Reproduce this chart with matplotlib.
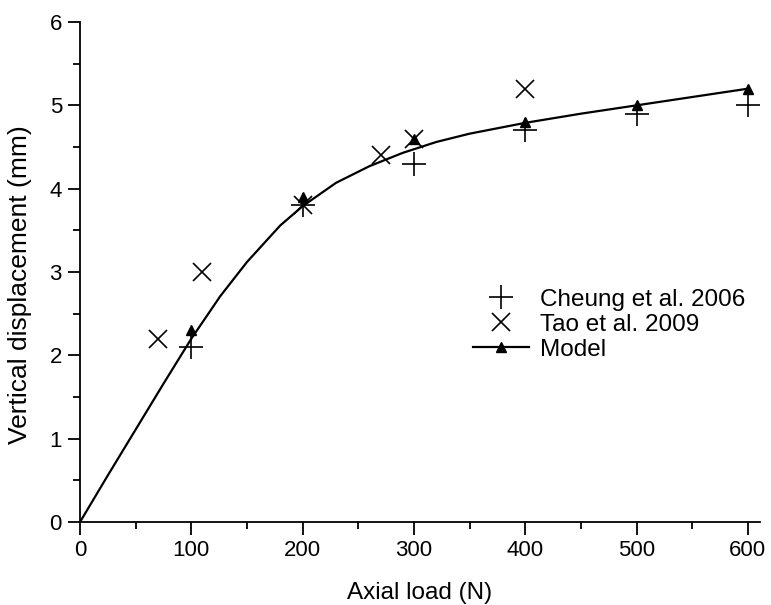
import matplotlib.pyplot as plt
from matplotlib.ticker import MultipleLocator

plt.rcParams['font.family'] = ['Liberation Sans', 'DejaVu Sans']

# model curve traced along the load range
curve_load = [0, 25, 50, 75, 100, 126, 150, 180, 200, 230, 260, 290, 320, 350, 400, 450, 500, 550, 600]
curve_disp = [0, 0.56, 1.11, 1.66, 2.2, 2.71, 3.12, 3.56, 3.79, 4.07, 4.27, 4.43, 4.56, 4.66,
              4.79, 4.9, 5.0, 5.1, 5.2]

# model values at the marked loads
model_load = [100, 200, 300, 400, 500, 600]
model_disp = [2.3, 3.9, 4.6, 4.8, 5.0, 5.2]

cheung_load = [100, 200, 300, 400, 500, 600]
cheung_disp = [2.1, 3.8, 4.3, 4.7, 4.9, 5.0]

tao_load = [70, 110, 200, 270, 300, 400]
tao_disp = [2.2, 3.0, 3.8, 4.4, 4.6, 5.2]

fig = plt.figure(figsize=(7.71, 6.05), dpi=100)
ax = fig.add_axes([0.1038, 0.1372, 0.882, 0.8264])

ax.plot(cheung_load, cheung_disp, ls='none', marker='+', ms=17, mew=1.2,
        color='black', label='Cheung et al. 2006')
ax.plot(tao_load, tao_disp, ls='none', marker='x', ms=13, mew=1.2,
        color='black', label='Tao et al. 2009')
ax.plot(curve_load, curve_disp, color='black', lw=1.6)
ax.plot(model_load, model_disp, ls='none', marker='^', ms=7, color='black')
ax.plot([], [], color='black', lw=1.6, marker='^', ms=7, label='Model')

ax.set_xlim(0, 611)
ax.set_ylim(0, 6)
ax.xaxis.set_major_locator(MultipleLocator(100))
ax.xaxis.set_minor_locator(MultipleLocator(50))
ax.yaxis.set_major_locator(MultipleLocator(1))
ax.yaxis.set_minor_locator(MultipleLocator(0.5))

for side in ['top', 'right']:
    ax.spines[side].set_visible(False)
for side in ['left', 'bottom']:
    ax.spines[side].set_linewidth(1.3)

ax.tick_params(which='major', direction='out', length=9, width=1.3, labelsize=16, pad=4)
ax.tick_params(which='minor', direction='out', length=5, width=1.3)

ax.set_xlabel('Axial load (N)', fontsize=17.5, labelpad=15)
ax.set_ylabel('Vertical displacement (mm)', fontsize=19)
ax.yaxis.set_label_coords(-0.07, 0.475)

ax.legend(loc='upper left', bbox_to_anchor=(0.598, 0.543), bbox_transform=fig.transFigure,
          frameon=False, fontsize=17.5, handlelength=2.3, handletextpad=0.45,
          labelspacing=0.12, borderpad=0)

fig.savefig('out.png', dpi=100)
